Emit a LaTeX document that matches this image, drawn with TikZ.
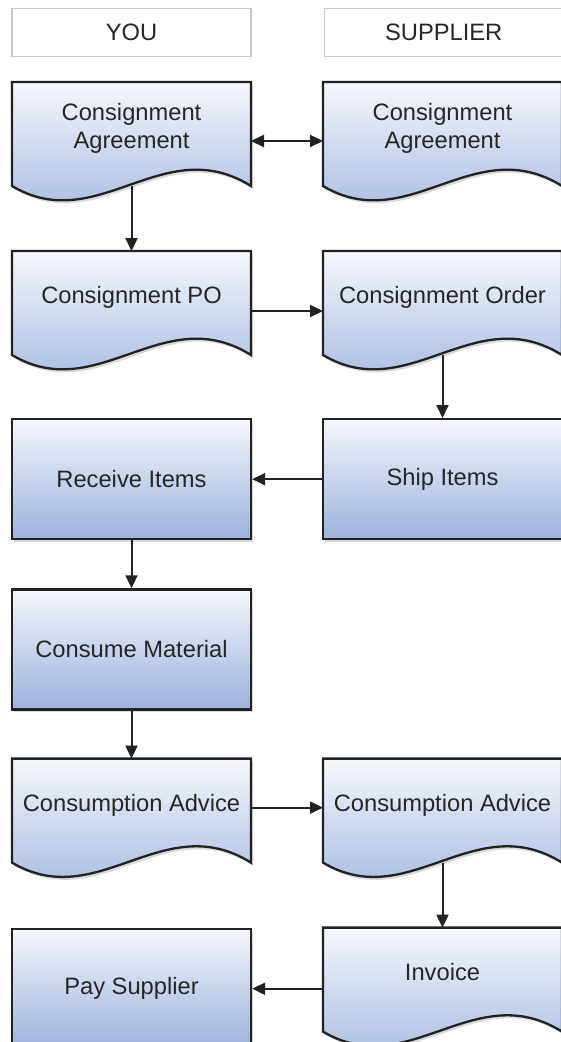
\documentclass[tikz,border=0pt]{standalone}
\usepackage{fontspec}
\setmainfont{Liberation Sans}
\usetikzlibrary{arrows.meta, positioning, shadows, backgrounds}
\definecolor{boxtop}{HTML}{F6F8FC}
\definecolor{boxmid}{HTML}{C8D4EC}
\definecolor{boxbot}{HTML}{9DB3DD}
\definecolor{boxline}{HTML}{222222}
\definecolor{laneline}{HTML}{C8C8C8}
\definecolor{txt}{HTML}{262626}
\tikzstyle{lane} = [rectangle, minimum width=239pt, minimum height=48pt, draw=laneline, line width=1.2pt, text=txt]
\tikzstyle{task} = [rectangle, minimum width=239pt, minimum height=120pt, draw=boxline, line width=2.3pt, top color=boxtop, bottom color=boxbot, middle color=boxmid, drop shadow={shadow xshift=2pt, shadow yshift=-3pt, opacity=0.3}, text=txt, align=center]
\tikzstyle{docu} = [rectangle, minimum width=239pt, minimum height=104pt, outer sep=0pt, text depth=16pt, text=txt, align=center]
\tikzstyle{docshape} = [draw=boxline, line width=2.3pt, top color=boxtop, bottom color=boxbot, middle color=boxmid, drop shadow={shadow xshift=2pt, shadow yshift=-3pt, opacity=0.3}]
\tikzstyle{arrow} = [line width=2pt, draw=boxline, ->, >={Triangle[length=13pt,width=12pt]}]

\begin{document}
\begin{tikzpicture}[node distance=65pt, every node/.style={font=\fontsize{23.7}{28}\selectfont}]
\useasboundingbox (0,0) rectangle (561pt,-1042pt);

\node (agreeyou) [docu] at (131.5pt,-134pt) {Consignment\\Agreement};
\node (agreesup) [docu, right=72pt of agreeyou] {Consignment\\Agreement};
\node (headyou) [lane, above=25pt of agreeyou] {YOU};
\node (headsup) [lane, right=72pt of headyou] {SUPPLIER};

\node (po) [docu, below=of agreeyou] {Consignment PO};
\node (order) [docu, below=of agreesup] {Consignment Order};

\node (receive) [task, below=63pt of po] {Receive Items};
\node (ship) [task, below=63pt of order] {Ship Items};

\node (consume) [task, below=48pt of receive] {Consume Material};

\node (adviceyou) [docu, below=48pt of consume] {Consumption Advice};
\node (advicesup) [docu, right=72pt of adviceyou] {Consumption Advice};

\node (pay) [task, below=of adviceyou] {Pay Supplier};
\node (invoice) [docu, below=of advicesup] {Invoice};

% document shapes behind the text
\begin{scope}[on background layer]
\foreach \n in {agreeyou, agreesup, po, order, adviceyou, advicesup, invoice}
  \path[docshape] (\n.north west) -- (\n.south west)
    .. controls ([xshift=86pt,yshift=-51pt]\n.south west) and ([xshift=151pt,yshift=55pt]\n.south west) .. (\n.south east)
    -- (\n.north east) -- cycle;
\end{scope}

\draw [arrow, <->] ([yshift=-7pt]agreeyou.east) -- ([yshift=-7pt]agreesup.west);
\draw [arrow] (agreeyou) -- (po);
\draw [arrow] ([yshift=-8pt]po.east) -- ([yshift=-8pt]order.west);
\draw [arrow] (order) -- (ship);
\draw [arrow] (ship) -- (receive);
\draw [arrow] (receive) -- (consume);
\draw [arrow] (consume) -- (adviceyou);
\draw [arrow] ([yshift=3pt]adviceyou.east) -- ([yshift=3pt]advicesup.west);
\draw [arrow] (advicesup) -- (invoice);
\draw [arrow] (invoice.west |- pay.east) -- (pay.east);

\end{tikzpicture}
\end{document}
